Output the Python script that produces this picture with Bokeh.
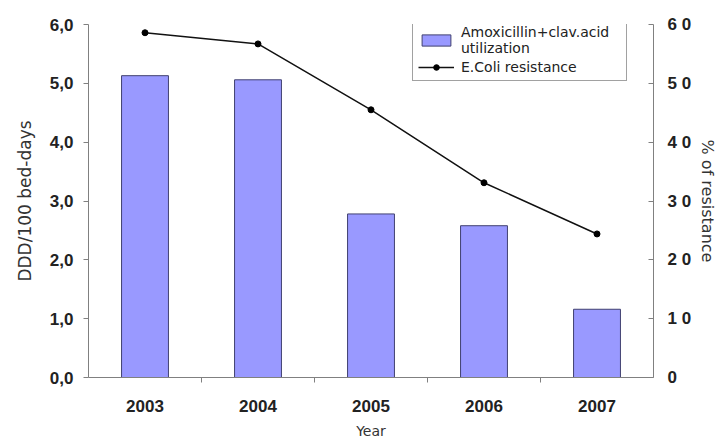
from bokeh.plotting import figure
from bokeh.models import (Range1d, LinearAxis, FixedTicker, Legend, LegendItem, ColumnDataSource)
from bokeh.embed import file_html
from bokeh.resources import INLINE

years = ["2003", "2004", "2005", "2006", "2007"]
ddd = [5.13, 5.06, 2.78, 2.58, 1.16]
resistance = [58.6, 56.7, 45.5, 33.1, 24.4]
left_ticks = [0, 1, 2, 3, 4, 5, 6]
left_labels = ["0,0", "1,0", "2,0", "3,0", "4,0", "5,0", "6,0"]
right_ticks = [0, 10, 20, 30, 40, 50, 60]
right_labels = ["0", "1 0", "2 0", "3 0", "4 0", "5 0", "6 0"]

xs = [i + 0.5 for i in range(len(years))]
src = ColumnDataSource(dict(x=xs, ddd=ddd, res=resistance))

p = figure(width=721, height=441, output_backend="svg", toolbar_location=None,
           x_range=Range1d(0, len(years)), y_range=Range1d(0, 6),
           min_border_left=88, min_border_right=68, min_border_top=24, min_border_bottom=63)
p.extra_y_ranges = {"pct": Range1d(0, 60)}
p.xgrid.visible = False
p.ygrid.visible = False
p.outline_line_color = None

bars = p.vbar(x="x", top="ddd", width=0.415, source=src,
              fill_color="#9999FF", line_color="#404070", line_width=1)
ln = p.line(x="x", y="res", source=src, y_range_name="pct", line_color="#111111", line_width=1.5)
pts = p.scatter(x="x", y="res", source=src, y_range_name="pct", size=6,
                fill_color="black", line_color="black")

axis_col = "#808080"
lab_font = "Liberation Sans"
title_font = "DejaVu Sans"

# x axis
xa = p.xaxis[0]
xa.ticker = FixedTicker(ticks=xs, minor_ticks=[1, 2, 3, 4])
xa.major_label_overrides = {x: y for x, y in zip(xs, years)}
xa.major_tick_line_color = None
xa.major_tick_out = 0
xa.major_tick_in = 0
xa.minor_tick_line_color = axis_col
xa.minor_tick_out = 5
xa.minor_tick_in = 0
xa.axis_line_color = axis_col
xa.axis_label = "Year"
xa.axis_label_text_font = title_font
xa.axis_label_text_font_style = "normal"
xa.axis_label_text_font_size = "14px"
xa.axis_label_text_color = "#333333"
xa.major_label_text_font = lab_font
xa.major_label_text_font_style = "bold"
xa.major_label_text_font_size = "17px"
xa.major_label_text_color = "#222222"
xa.major_label_standoff = 17
xa.axis_label_standoff = 8

# left axis
ya = p.yaxis[0]
ya.ticker = FixedTicker(ticks=left_ticks)
ya.major_label_overrides = {t: l for t, l in zip(left_ticks, left_labels)}
ya.axis_line_color = axis_col
ya.major_tick_line_color = axis_col
ya.major_tick_out = 5
ya.major_tick_in = 0
ya.minor_tick_line_color = None
ya.axis_label = "DDD/100 bed-days"
ya.axis_label_text_font = title_font
ya.axis_label_text_font_style = "normal"
ya.axis_label_text_font_size = "17px"
ya.axis_label_text_color = "#333333"
ya.major_label_text_font = lab_font
ya.major_label_text_font_style = "bold"
ya.major_label_text_font_size = "17px"
ya.major_label_text_color = "#222222"
ya.major_label_standoff = 10
ya.axis_label_standoff = 12

# right axis
ra = LinearAxis(y_range_name="pct", ticker=FixedTicker(ticks=right_ticks))
ra.major_label_overrides = {t: l for t, l in zip(right_ticks, right_labels)}
ra.axis_line_color = axis_col
ra.major_tick_line_color = axis_col
ra.major_tick_out = 0
ra.major_tick_in = 5
ra.minor_tick_line_color = None
ra.axis_label = "% of resistance"
ra.axis_label_text_font = title_font
ra.axis_label_text_font_style = "normal"
ra.axis_label_text_font_size = "16px"
ra.axis_label_text_color = "#333333"
ra.major_label_text_font = lab_font
ra.major_label_text_font_style = "bold"
ra.major_label_text_font_size = "17px"
ra.major_label_text_color = "#222222"
ra.major_label_standoff = 14
ra.axis_label_standoff = 4
p.add_layout(ra, "right")

legend = Legend(items=[
    LegendItem(label="Amoxicillin+clav.acid\nutilization", renderers=[bars]),
    LegendItem(label="E.Coli resistance", renderers=[ln, pts]),
], location=(324, 296))
legend.border_line_color = "#444444"
legend.border_line_width = 1.2
legend.background_fill_alpha = 1
legend.margin = 0
legend.padding = 5
legend.spacing = 3
legend.glyph_width = 36
legend.glyph_height = 14
legend.label_width = 160
legend.label_text_font = title_font
legend.label_text_font_size = "14px"
legend.label_text_color = "#222222"
legend.label_standoff = 7
p.add_layout(legend, "center")

open("out.html", "w").write(file_html(p, INLINE))
